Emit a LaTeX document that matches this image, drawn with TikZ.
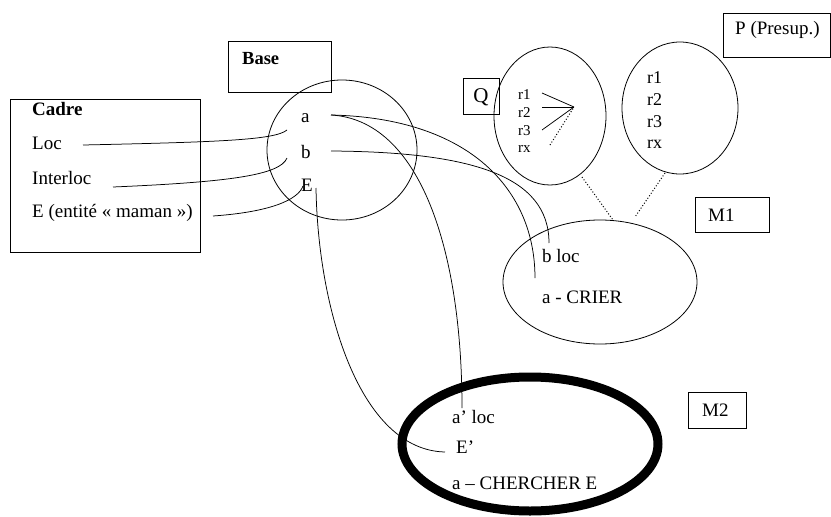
\documentclass[tikz,border=0pt]{standalone}
\usepackage{fontspec}
\setmainfont{Liberation Serif}
\begin{document}
\begin{tikzpicture}[x=1pt,y=-1pt,
  box/.style={draw, line width=0.9pt, inner sep=0pt},
  lbl/.style={font=\fontsize{19}{21}\selectfont, inner sep=0pt, anchor=west},
  slbl/.style={font=\fontsize{15}{17}\selectfont, inner sep=0pt, anchor=west},
  mlbl/.style={font=\fontsize{18}{20}\selectfont, inner sep=0pt, anchor=west},
  blbl/.style={font=\fontsize{19}{21}\selectfont\bfseries, inner sep=0pt, anchor=west},
  link/.style={line width=0.75pt},
  dotl/.style={line width=1pt, dotted}]
\useasboundingbox (0,0) rectangle (831,517);
% boxes
\node[box, minimum width=190pt, minimum height=153pt] (cadre) at (105,175.5) {};
\node[box, minimum width=103pt, minimum height=51pt] (base) at (279.5,66.5) {};
\node[box, minimum width=36pt, minimum height=36pt] (qbox) at (481,96) {};
\node[box, minimum width=107pt, minimum height=44pt] (pbox) at (776.5,35) {};
\node[box, minimum width=74pt, minimum height=35pt] (m1box) at (732,214.5) {};
\node[box, minimum width=58pt, minimum height=36pt] (m2box) at (717,410) {};
% ellipses
\draw[line width=0.8pt] (342,150) ellipse [x radius=75, y radius=70];
\draw[line width=0.8pt] (550,116) ellipse [x radius=56, y radius=69];
\draw[line width=0.8pt] (680,108) ellipse [x radius=58, y radius=66];
\draw[line width=0.8pt] (600,282) ellipse [x radius=97, y radius=62];
\draw[line width=9pt] (530,444) ellipse [x radius=128, y radius=67];
% texts
\node[blbl] (tcadre) at (32,109) {Cadre};
\node[lbl] (tloc) at (32,143) {Loc};
\node[lbl] (tinter) at (32,178) {Interloc};
\node[lbl] (tent) at (32,213) {E (entité « maman »)};
\node[blbl, font=\fontsize{18.5}{20}\selectfont\bfseries] (tbase) at (242,59) {Base};
\node[lbl] (ta) at (301,118) {a};
\node[lbl] (tb) at (301,152) {b};
\node[lbl] (tE) at (301,185) {E};
\node[font=\fontsize{21}{23}\selectfont, inner sep=0pt] (tq) at (481,97) {Q};
\node[slbl] (q1) at (518,95) {r1};
\node[slbl] (q2) at (518,113) {r2};
\node[slbl] (q3) at (518,131) {r3};
\node[slbl] (qx) at (518,149) {rx};
\node[mlbl] (p1) at (647,78) {r1};
\node[mlbl] (p2) at (647,100) {r2};
\node[mlbl] (p3) at (647,122) {r3};
\node[mlbl] (px) at (647,144) {rx};
\node[lbl] (tp) at (735,30) {P (Presup.)};
\node[lbl] (tm1) at (708,215) {M1};
\node[lbl] (tm2) at (702,410) {M2};
\node[lbl] (tbloc) at (542,256) {b loc};
\node[lbl] (tcrier) at (542,297) {a - CRIER};
\node[lbl] (taloc) at (452,417) {a’ loc};
\node[lbl] (tEp) at (456,447) {E’};
\node[lbl] (tcherch) at (452,483) {a – CHERCHER E};
% coordinates
\coordinate (locS) at (83,145);
\coordinate (locE) at (287,130);
\coordinate (intS) at (113,187);
\coordinate (intE) at (287,158);
\coordinate (entS) at (213,216);
\coordinate (entE) at (303,186);
\coordinate (aS) at (331,115);
\coordinate (bS) at (331,151);
\coordinate (ES) at (316,188);
\coordinate (alocE) at (462,408);
\coordinate (crierE) at (535,278);
\coordinate (blocE) at (549,243);
\coordinate (EpE) at (445,452);
\coordinate (qtip) at (574,107);
\coordinate (q1e) at (542,93);
\coordinate (q2e) at (542,107);
\coordinate (q3e) at (542,130);
\coordinate (qxe) at (550,145);
\coordinate (qbot) at (582,177);
\coordinate (m1q) at (613,220);
\coordinate (pbot) at (665,173);
\coordinate (m1p) at (635,217);
% connectors
\draw[link] (locS) .. controls (220,142) and (275,140) .. (locE);
\draw[link] (intS) .. controls (230,182) and (280,175) .. (intE);
\draw[link] (entS) .. controls (270,212) and (298,200) .. (entE);
\draw[link] (ES) .. controls (318,310) and (360,450) .. (EpE);
\draw[link] (aS) .. controls (420,120) and (462,250) .. (alocE);
\draw[link] (aS) .. controls (470,118) and (535,190) .. (crierE);
\draw[link] (bS) .. controls (470,152) and (549,175) .. (blocE);
\draw[link] (q1e) -- (qtip);
\draw[link] (q2e) -- (qtip);
\draw[link] (q3e) -- (qtip);
\draw[dotl] (qxe) -- (qtip);
\draw[dotl] (qbot) -- (m1q);
\draw[dotl] (pbot) -- (m1p);
\end{tikzpicture}
\end{document}
